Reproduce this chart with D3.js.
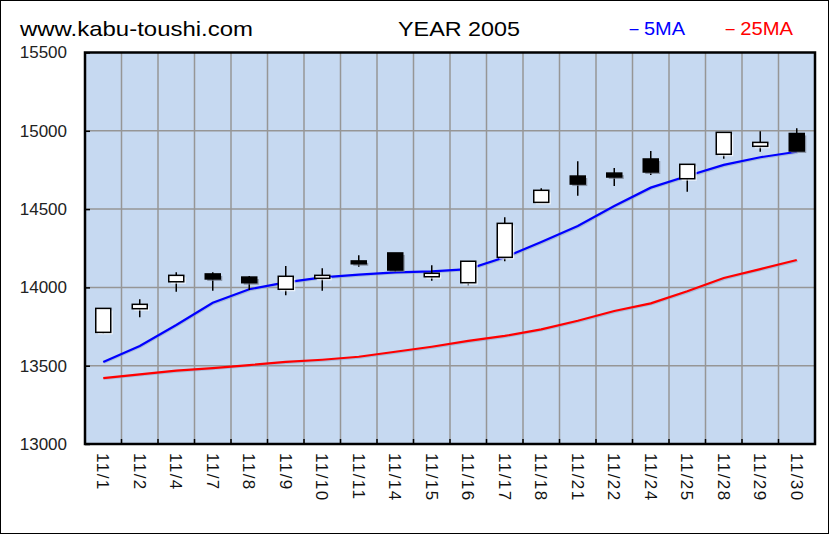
<!DOCTYPE html>
<html><head><meta charset="utf-8">
<script src="https://cdn.jsdelivr.net/npm/d3@7/dist/d3.min.js"></script>
<style>body{margin:0;background:#fff}svg{display:block}text{font-family:"Liberation Sans",Arial,sans-serif}</style>
</head><body>
<svg id="c" width="829" height="534"></svg>
<script>
const dates = ["11/1","11/2","11/4","11/7","11/8","11/9","11/10","11/11","11/14","11/15","11/16","11/17","11/18","11/21","11/22","11/24","11/25","11/28","11/29","11/30"];
const openV  = [13713,13864,14036,14086,14066,13988,14058,14169,14220,14068,14030,14192,14543,14711,14730,14820,14694,14850,14901,14983];
const closeV = [13866,13892,14077,14054,14030,14071,14077,14151,14111,14090,14167,14409,14620,14660,14705,14737,14786,14990,14926,14871];
const highV  = [13866,13924,14096,14096,14073,14137,14122,14205,14220,14141,14167,14448,14633,14805,14762,14871,14786,14990,14997,15016];
const lowV   = [13705,13809,13973,13979,13983,13950,13979,14132,14100,14043,14013,14167,14543,14585,14648,14718,14611,14822,14866,14871];
const ma5    = [13524,13626,13760,13902,13988,14032,14064,14081,14096,14102,14117,14192,14290,14392,14520,14637,14711,14782,14831,14866];
const ma25   = [13421,13445,13468,13485,13504,13524,13538,13557,13589,13621,13658,13690,13732,13787,13849,13898,13975,14060,14117,14175];
const yTicks = [13000,13500,14000,14500,15000,15500];

const svg = d3.select("#c");
const L=85, R=815, T=52.5, B=444;
const x = d3.scaleBand().domain(dates).range([L,R]).padding(0);
const y = d3.scaleLinear().domain([13000,15500]).range([B,T]);
const bw = x.bandwidth();
const cw = 15;

// outer frame
svg.append("rect").attr("x",0.5).attr("y",0.5).attr("width",828).attr("height",533)
  .attr("fill","#fff").attr("stroke","#000").attr("stroke-width",1);

// plot bg
svg.append("rect").attr("x",L).attr("y",T).attr("width",R-L).attr("height",B-T).attr("fill","#C6D9F1");

// grid
const g = svg.append("g");
g.selectAll(".vg").data(dates.slice(1)).join("line")
  .attr("x1",d=>x(d)).attr("x2",d=>x(d)).attr("y1",T).attr("y2",B)
  .attr("stroke","#969696").attr("stroke-width",1.5);
g.selectAll(".hg").data(yTicks.slice(1,-1)).join("line")
  .attr("x1",L).attr("x2",R).attr("y1",d=>y(d)).attr("y2",d=>y(d))
  .attr("stroke","#969696").attr("stroke-width",1.5);

// axes (ticks inward)
const yAxis = d3.axisLeft(y).tickValues(yTicks).tickSize(-5).tickFormat("");
svg.append("g").attr("transform",`translate(${L},0)`).call(yAxis)
  .call(a=>a.select(".domain").remove())
  .call(a=>a.selectAll("line").attr("stroke","#000").attr("stroke-width",1.5));
svg.append("g").selectAll("line").data(dates.slice(1)).join("line")
  .attr("x1",d=>x(d)).attr("x2",d=>x(d)).attr("y1",B).attr("y2",B-5)
  .attr("stroke","#000").attr("stroke-width",1.5);

// y labels
svg.append("g").selectAll("text").data(yTicks).join("text")
  .attr("x",67).attr("y",d=>y(d)).attr("dy","0.35em").attr("text-anchor","end")
  .attr("font-size",17).attr("fill","#222").text(d=>d);

// x labels
svg.append("g").selectAll("text").data(dates).join("text")
  .attr("transform",d=>`translate(${x(d)+bw/2-6},453) rotate(90)`)
  .attr("font-size",17).attr("letter-spacing",1.5).attr("fill","#111").text(d=>d);

// lines
const line = arr => d3.line().x((v,i)=>x(dates[i])+bw/2).y(v=>y(v))(arr);
svg.append("path").attr("d",line(ma25)).attr("transform","translate(1,1)").attr("fill","none").attr("stroke","#8aa0c8").attr("stroke-width",2).attr("opacity",0.5);
svg.append("path").attr("d",line(ma5)).attr("transform","translate(1,1)").attr("fill","none").attr("stroke","#8aa0c8").attr("stroke-width",2).attr("opacity",0.5);
svg.append("path").attr("d",line(ma25)).attr("fill","none").attr("stroke","#FF0000").attr("stroke-width",2.2);
svg.append("path").attr("d",line(ma5)).attr("fill","none").attr("stroke","#0000FF").attr("stroke-width",2.2);

// candles
const idx = d3.range(dates.length);
const cg = svg.append("g");
cg.selectAll(".wick").data(idx).join("line")
  .attr("x1",i=>x(dates[i])+bw/2).attr("x2",i=>x(dates[i])+bw/2)
  .attr("y1",i=>y(highV[i])).attr("y2",i=>y(lowV[i]))
  .attr("stroke","#000").attr("stroke-width",1.5);
cg.selectAll(".shadow").data(idx).join("rect")
  .attr("x",i=>x(dates[i])+bw/2-cw/2+2)
  .attr("y",i=>y(Math.max(openV[i],closeV[i]))+2)
  .attr("width",cw).attr("height",i=>Math.max(1,Math.abs(y(openV[i])-y(closeV[i]))))
  .attr("fill",i=>closeV[i]>=openV[i]?"#ffffff":"#707888").attr("opacity",0.7);
cg.selectAll(".body").data(idx).join("rect")
  .attr("x",i=>x(dates[i])+bw/2-cw/2)
  .attr("y",i=>y(Math.max(openV[i],closeV[i])))
  .attr("width",cw).attr("height",i=>Math.max(1,Math.abs(y(openV[i])-y(closeV[i]))))
  .attr("fill",i=>closeV[i]>=openV[i]?"#fff":"#000")
  .attr("stroke","#000").attr("stroke-width",1.5);

// plot border
svg.append("rect").attr("x",L).attr("y",T).attr("width",R-L).attr("height",B-T)
  .attr("fill","none").attr("stroke","#000").attr("stroke-width",2.5);

// titles
svg.append("text").attr("x",20).attr("y",36).attr("font-size",21).attr("fill","#000")
  .attr("textLength",233).attr("lengthAdjust","spacingAndGlyphs").text("www.kabu-toushi.com");
svg.append("text").attr("x",398).attr("y",36).attr("font-size",21).attr("fill","#000")
  .attr("textLength",122).attr("lengthAdjust","spacingAndGlyphs").text("YEAR 2005");
svg.append("text").attr("x",624).attr("y",35).attr("font-size",19).attr("fill","#0000FF")
  .attr("textLength",61).attr("lengthAdjust","spacingAndGlyphs").text("－5MA");
svg.append("text").attr("x",720).attr("y",35).attr("font-size",19).attr("fill","#FF0000")
  .attr("textLength",73).attr("lengthAdjust","spacingAndGlyphs").text("－25MA");
</script>
</body></html>
